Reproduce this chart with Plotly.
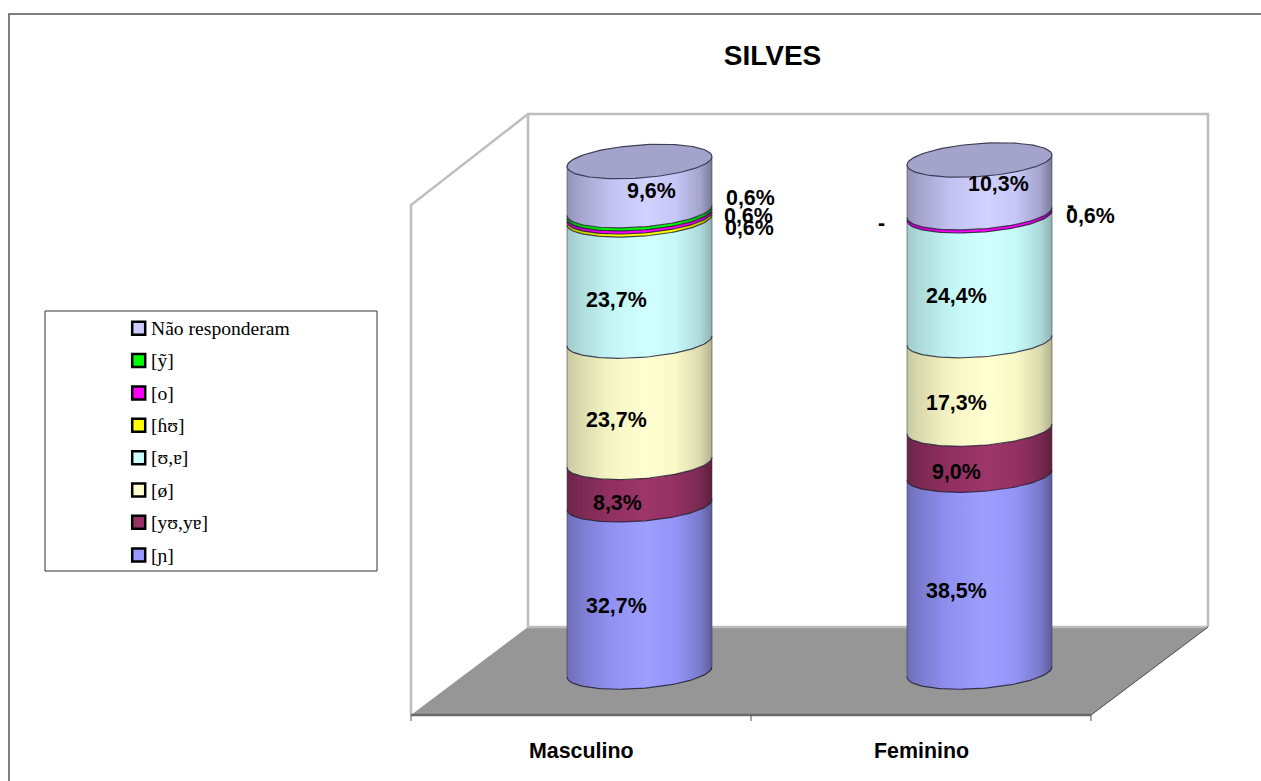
import numpy as np
import plotly.graph_objects as go

# Survey answers by sex, stacked bottom to top
CATEGORIES = ["Masculino", "Feminino"]
SERIES = ["[ɲ]", "[yʊ,yɐ]", "[ø]", "[ʊ,ɐ]", "[ɦʊ]", "[o]", "[ỹ]", "Não responderam"]
MASCULINO = [32.7, 8.3, 23.7, 23.7, 0.6, 0.6, 0.6, 9.6]
FEMININO = [38.5, 9.0, 17.3, 24.4, 0.0, 0.6, 0.0, 10.3]
COLOURS = ["#9999FF", "#993366", "#FFFFCC", "#CCFFFF", "#FFFF00", "#FF00FF", "#00FF00", "#CCCCFF"]
TITLE = "SILVES"

VALUES = [MASCULINO, FEMININO]

# Canvas and the linear maps from canvas pixels to the two data axes
WIDTH, HEIGHT = 1261, 781
CYL_X0, CYL_PITCH = 639.5, 340.0
BASE_Y, PX_PER_PCT = 672.0, 5.115


def ux(px):
    return (px - CYL_X0) / CYL_PITCH


def uy(px):
    return (BASE_Y - px) / PX_PER_PCT


# Cylinder geometry, in pixels
RX, RY, TILT = 72.5, 16.5, 5.0

# Label placement relative to the middle of each stacked segment (dx, dy in pixels)
LABEL_OFFSETS = [
    [(-23.5, 18), (-22.5, 19), (-23.5, 18), (-23.5, 20), (109.5, 10), (109, 1), (111, -14), (11.5, 5)],
    [(-23.5, 17), (-23.5, 20), (-23.5, 18.5), (-23.5, 18), (-98.5, 7), (110.5, 2), (90.5, -8), (18.5, -2)],
]

SHADE = [(0, .72), (.08, .8), (.3, .95), (.55, 1.03), (.75, .97), (.92, .8), (1, .6)]
PALE = {"#FFFFCC", "#CCFFFF"}


def tint(colour, factor):
    rgb = [int(colour[i:i + 2], 16) for i in (1, 3, 5)]
    return "rgb({},{},{})".format(*[min(255, round(c * factor)) for c in rgb])


def rim(cat, level, t):
    """Point on the tilted ellipse at stack height `level`, in data units."""
    x = CYL_X0 + CYL_PITCH * cat + RX * np.cos(t)
    y = BASE_Y - PX_PER_PCT * level - TILT * np.cos(t) + RY * np.sin(t)
    return ux(x), uy(y)


FRONT = np.linspace(np.pi, 0, 60)
ALL_ROUND = np.linspace(0, 2 * np.pi, 120)

fig = go.Figure()


def polygon(xs, ys, fill, line=None, width=1):
    fig.add_trace(go.Scatter(x=[ux(p) for p in xs], y=[uy(p) for p in ys], mode="lines", fill="toself",
                             fillcolor=fill, line=dict(color=line or fill, width=width),
                             hoverinfo="skip", showlegend=False))


def polyline(xs, ys, colour, width):
    fig.add_trace(go.Scatter(x=[ux(p) for p in xs], y=[uy(p) for p in ys], mode="lines",
                             line=dict(color=colour, width=width), hoverinfo="skip", showlegend=False))


# Chart frame: only the top and left rules are on the canvas
polyline([9, 9, WIDTH], [HEIGHT, 14, 14], "#555555", 1.5)

# Walls and floor of the 3D box
polygon([528, 1208, 1091, 411], [627, 627, 715, 715], "#969696")
polyline([411, 411, 528, 1208, 1208], [715, 205, 114, 114, 627], "#bdbdbd", 2.5)
polyline([528, 528, 1208], [114, 627, 627], "#bdbdbd", 2.5)
polyline([1208, 1091], [627, 715], "#555555", 1)
polyline([411, 1091], [715, 715], "#6a6a6a", 2.5)
for tick in (411, 751, 1091):
    polyline([tick, tick], [715, 721], "#555555", 1)

# Stacked cylinders: a shaded side panel per segment, then the rim lines and the top cap
for cat, values in enumerate(VALUES):
    lo = 0.0
    for value, colour, name in zip(values, COLOURS, SERIES):
        hi = lo + value
        if value > 0:
            bx, by = rim(cat, lo, FRONT)
            tx, ty = rim(cat, hi, FRONT[::-1])
            left, right = ux(CYL_X0 + CYL_PITCH * cat - RX), ux(CYL_X0 + CYL_PITCH * cat + RX)
            soften = 0.75 if colour in PALE else 1.0
            fig.add_trace(go.Scatter(
                x=np.r_[bx, tx], y=np.r_[by, ty], mode="lines", fill="toself",
                line=dict(width=0), name=name, hoverinfo="skip", showlegend=False,
                fillgradient=dict(type="horizontal", start=left, stop=right,
                                  colorscale=[[p, tint(colour, 1 - (1 - f) * soften)] for p, f in SHADE])))
            fig.add_trace(go.Scatter(x=bx, y=by, mode="lines", line=dict(color="rgba(25,25,45,.8)", width=1.2),
                                     hoverinfo="skip", showlegend=False))
        lo = hi
    cx, cy = rim(cat, lo, ALL_ROUND)
    fig.add_trace(go.Scatter(x=cx, y=cy, mode="lines", fill="toself", fillcolor=tint(COLOURS[-1], .8),
                             line=dict(color="rgba(45,45,70,.9)", width=1.2), hoverinfo="skip", showlegend=False))
    for side in (-RX, RX):
        sx = ux(CYL_X0 + CYL_PITCH * cat + side)
        fig.add_trace(go.Scatter(x=[sx, sx], y=[rim(cat, 0, np.pi if side < 0 else 0)[1],
                                                 rim(cat, lo, np.pi if side < 0 else 0)[1]],
                                 mode="lines", line=dict(color="rgba(60,60,70,.55)", width=1),
                                 hoverinfo="skip", showlegend=False))

annotations = []
SANS = dict(family="Liberation Sans", size=21.4, color="black")

# Value labels, stated from the same numbers as the segments
for cat, values in enumerate(VALUES):
    lo = 0.0
    for value, (dx, dy) in zip(values, LABEL_OFFSETS[cat]):
        text = f"{value:.1f}%".replace(".", ",") if value > 0 else "-"
        annotations.append(dict(x=cat, y=lo + value / 2, xref="x", yref="y", text=f"<b>{text}</b>",
                                showarrow=False, xshift=dx, yshift=-dy, font=SANS))
        lo += value

# Category names under the front edge
for label, px in zip(CATEGORIES, (581.5, 921)):
    annotations.append(dict(x=ux(px), y=uy(751), xref="x", yref="y", text=f"<b>{label}</b>",
                            showarrow=False, font=SANS))

# Key box with one swatch per series, topmost series first
polygon([45, 377, 377, 45, 45], [311, 311, 571, 571, 311], "white", "#333333", 1)
KEY_ROWS = [328.3, 360.6, 393, 425.3, 457.7, 490, 522.3, 555]
for name, colour, row in zip(SERIES[::-1], COLOURS[::-1], KEY_ROWS):
    fig.add_trace(go.Scatter(x=[ux(138.7)], y=[uy(row)], mode="markers", name=name, hoverinfo="skip",
                             showlegend=False,
                             marker=dict(symbol="square", size=13, color=colour,
                                         line=dict(color="black", width=2.5))))
    annotations.append(dict(x=ux(149), y=uy(row), xref="x", yref="y", text=name, showarrow=False,
                            xanchor="left", font=dict(family="Liberation Serif", size=19.6, color="black")))

fig.update_layout(
    width=WIDTH, height=HEIGHT, margin=dict(l=0, r=0, t=0, b=0),
    paper_bgcolor="white", plot_bgcolor="white", showlegend=False,
    title=dict(text=f"<b>{TITLE}</b>", x=772.5 / WIDTH, y=1 - 55 / HEIGHT, xanchor="center", yanchor="middle",
               font=dict(family="Liberation Sans", size=28, color="black")),
    xaxis=dict(range=[ux(0), ux(WIDTH)], visible=False, fixedrange=True),
    yaxis=dict(range=[uy(HEIGHT), uy(0)], visible=False, fixedrange=True),
    annotations=annotations,
)
fig.write_html("out.html", config=dict(displayModeBar=False))
